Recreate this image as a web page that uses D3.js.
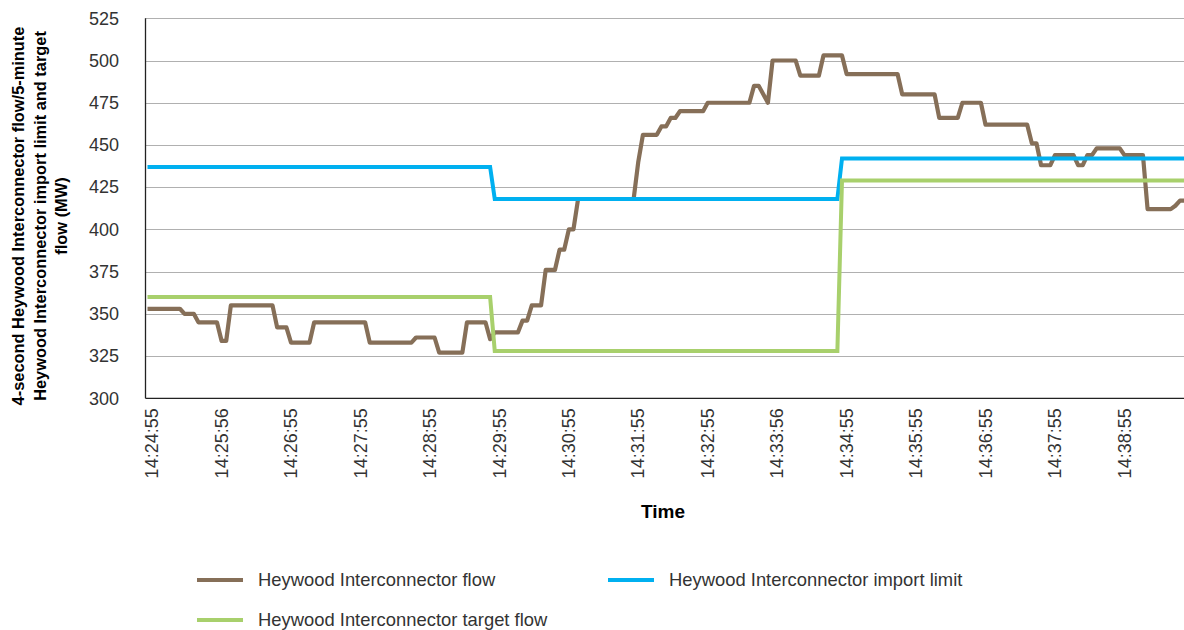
<!DOCTYPE html>
<html>
<head>
<meta charset="utf-8">
<script src="https://cdn.jsdelivr.net/npm/d3@7"></script>
<style>
  body { margin: 0; background: #fff; }
  svg { display: block; font-family: "Liberation Sans", Arial, sans-serif; }
  .axis text { fill: #333; font-size: 18px; }
  .axis path, .axis line { display: none; }
</style>
</head>
<body>
<svg id="chart" width="1184" height="630"></svg>
<script>
// 4-second Heywood Interconnector flow (MW), one row per minute from 14:24:55
var flow = [
  353,353,353,353,353,353,353,353,350,350,350,345,345,345,345,
  345,334,334,355,355,355,355,355,355,355,355,355,355,342,342,
  342,333,333,333,333,333,345,345,345,345,345,345,345,345,345,
  345,345,345,333,333,333,333,333,333,333,333,333,333,336,336,
  336,336,336,327,327,327,327,327,327,345,345,345,345,345,335,
  339,339,339,339,339,339,346,346,355,355,355,376,376,376,388,
  388,400,400,418,418,418,418,418,418,418,418,418,418,418,418,
  418,440,456,456,456,456,461,461,466,466,470,470,470,470,470,
  470,475,475,475,475,475,475,475,475,475,475,485,485,480,475,
  500,500,500,500,500,500,491,491,491,491,491,503,503,503,503,
  503,492,492,492,492,492,492,492,492,492,492,492,492,480,480,
  480,480,480,480,480,480,466,466,466,466,466,475,475,475,475,
  475,462,462,462,462,462,462,462,462,462,462,451,451,438,438,
  438,444,444,444,444,444,438,438,444,444,448,448,448,448,448,
  448,444,444,444,444,444,412,412,412,412,412,412,414,417,417
];

// 5-minute values, with the first and last sample index of each interval
var intervalStart = [0, 75, 150];
var intervalEnd = [74, 149, 224];
var importLimit = [437, 418, 442];
var targetFlow = [360, 328, 429];

var tickIdx = [0, 15, 30, 45, 60, 75, 90, 105, 120, 135, 150, 165, 180, 195, 210];
var tickLabels = ["14:24:55", "14:25:56", "14:26:55", "14:27:55", "14:28:55",
  "14:29:55", "14:30:55", "14:31:55", "14:32:55", "14:33:56", "14:34:55",
  "14:35:55", "14:36:55", "14:37:55", "14:38:55"];
var yTicks = [300, 325, 350, 375, 400, 425, 450, 475, 500, 525];

var seriesNames = ["Heywood Interconnector flow", "Heywood Interconnector import limit",
  "Heywood Interconnector target flow"];
var seriesColors = ["#866f58", "#00b0f0", "#a8d06c"];

var svg = d3.select("#chart");
var plotLeft = 145.5, plotTop = 18.3, plotBottom = 398.3;

var x = d3.scaleLinear().domain([0, flow.length - 1]).range([147.5, 147.5 + 4.63 * (flow.length - 1)]);
var y = d3.scaleLinear().domain([300, 525]).range([plotBottom, plotTop]);

// gridlines
svg.append("g")
  .selectAll("line")
  .data(yTicks)
  .enter().append("line")
    .attr("x1", plotLeft).attr("x2", 1184)
    .attr("y1", function(d) { return Math.round(y(d)) + 0.5; })
    .attr("y2", function(d) { return Math.round(y(d)) + 0.5; })
    .attr("stroke", "#b0b0b0").attr("stroke-width", 1.2);

// axes
svg.append("g")
    .attr("class", "axis")
    .attr("transform", "translate(" + plotLeft + ",0)")
    .call(d3.axisLeft(y).tickValues(yTicks).tickSize(0).tickPadding(26.5));

var xAxis = svg.append("g")
    .attr("class", "axis")
    .attr("transform", "translate(0," + plotBottom + ")")
    .call(d3.axisBottom(x).tickValues(tickIdx).tickSize(0)
      .tickFormat(function(d, i) { return tickLabels[i]; }));
xAxis.selectAll("text")
    .attr("transform", "rotate(-90)")
    .attr("text-anchor", "end")
    .attr("x", -10)
    .attr("y", 4)
    .attr("dy", "0.35em");

svg.append("line")
    .attr("x1", plotLeft).attr("x2", plotLeft).attr("y1", plotTop).attr("y2", plotBottom)
    .attr("stroke", "#222").attr("stroke-width", 1.3);
svg.append("line")
    .attr("x1", plotLeft).attr("x2", 1184).attr("y1", plotBottom).attr("y2", plotBottom)
    .attr("stroke", "#222").attr("stroke-width", 1.3);

// series
var line = d3.line()
    .x(function(d) { return x(d[0]); })
    .y(function(d) { return y(d[1]); });

function stepPoints(values) {
  var pts = [];
  values.forEach(function(v, k) {
    pts.push([intervalStart[k], v]);
    pts.push([intervalEnd[k], v]);
  });
  return pts;
}

svg.append("path")
    .datum(flow.map(function(v, i) { return [i, v]; }))
    .attr("d", line)
    .attr("fill", "none")
    .attr("stroke", seriesColors[0])
    .attr("stroke-width", 4.2)
    .attr("stroke-linejoin", "round");

svg.append("path")
    .datum(stepPoints(importLimit))
    .attr("d", line)
    .attr("fill", "none")
    .attr("stroke", seriesColors[1])
    .attr("stroke-width", 4);

svg.append("path")
    .datum(stepPoints(targetFlow))
    .attr("d", line)
    .attr("fill", "none")
    .attr("stroke", seriesColors[2])
    .attr("stroke-width", 4);

// axis titles
svg.append("text")
    .attr("x", 663).attr("y", 518)
    .attr("text-anchor", "middle")
    .attr("font-weight", "bold")
    .attr("font-size", 19)
    .attr("fill", "#000")
    .text("Time");

var yTitle = ["4-second Heywood Interconnector flow/5-minute",
  "Heywood Interconnector import limit and target", "flow (MW)"];
svg.append("text")
    .attr("transform", "translate(24,216) rotate(-90)")
    .attr("text-anchor", "middle")
    .attr("font-weight", "bold")
    .attr("font-size", 16.4)
    .attr("fill", "#000")
  .selectAll("tspan")
  .data(yTitle)
  .enter().append("tspan")
    .attr("x", 0)
    .attr("dy", function(d, i) { return i === 0 ? 0 : 21.5; })
    .text(function(d) { return d; });

// legend
var legendX = [197, 608, 197], legendY = [580, 580, 620];
var legend = svg.append("g")
  .selectAll("g")
  .data(seriesNames)
  .enter().append("g")
    .attr("transform", function(d, i) { return "translate(" + legendX[i] + "," + legendY[i] + ")"; });
legend.append("line")
    .attr("x1", 0).attr("x2", 46)
    .attr("stroke", function(d, i) { return seriesColors[i]; })
    .attr("stroke-width", 4);
legend.append("text")
    .attr("x", 61).attr("dy", "0.35em")
    .attr("font-size", 18.4)
    .attr("fill", "#333")
    .text(function(d) { return d; });
</script>
</body>
</html>
